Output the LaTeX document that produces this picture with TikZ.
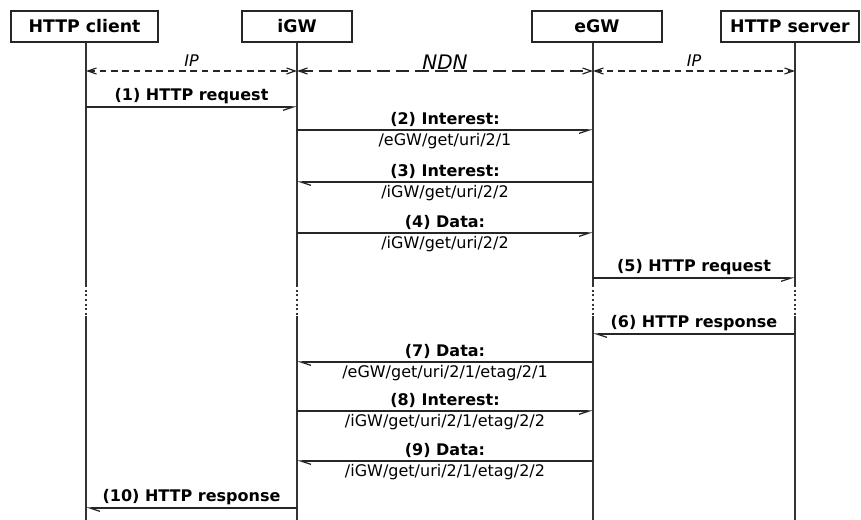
\documentclass[tikz,border=0pt]{standalone}
\usepackage{fontspec}
\setmainfont{DejaVu Sans}
\usetikzlibrary{arrows.meta}

\newcommand{\msgsize}{\fontsize{12}{14}\selectfont}

\tikzset{
  actor/.style={draw=black!85, line width=0.9pt, fill=white, inner sep=0pt,
    minimum height=23.25pt, font=\bfseries\fontsize{13}{15}\selectfont},
  life/.style={draw=black!80, line width=1pt},
  gapline/.style={draw=black!80, line width=1pt, dash pattern=on 1.5pt off 2pt},
  msgr/.style={draw=black!85, line width=0.95pt,
    -{Straight Barb[harpoon,swap,length=7.5pt,width=5pt]}},
  msgl/.style={draw=black!85, line width=0.95pt,
    -{Straight Barb[harpoon,length=7.5pt,width=5pt]}},
  lbl/.style={font=\msgsize\bfseries, inner sep=2pt},
  arg/.style={font=\msgsize, inner sep=2pt},
  tip/.tip={Straight Barb[length=6.5pt,width=4.5pt]},
  ipline/.style={draw=black!85, line width=0.9pt, dash pattern=on 5pt off 3.5pt, tip-tip},
  ndnline/.style={draw=black!85, line width=0.9pt, dash pattern=on 10pt off 4.5pt, tip-tip}
}

\begin{document}
\begin{tikzpicture}[x=0.75pt, y=-0.75pt]
    \useasboundingbox (0,0) rectangle (861,520);

    % participants
    \node[actor, minimum width=110.25pt] (client) at (84.5,26.5) {HTTP client};
    \node[actor, minimum width=82.5pt] (igw) at (297,26.5) {iGW};
    \node[actor, minimum width=97.5pt] (egw) at (597,26.5) {eGW};
    \node[actor, minimum width=103.5pt] (server) at (790,26.5) {HTTP server};

    % lifelines
    \coordinate (lc) at (86,520);
    \coordinate (li) at (297,520);
    \coordinate (le) at (593,520);
    \coordinate (ls) at (795,520);
    \foreach \n/\b in {lc/client, li/igw, le/egw, ls/server}
    {
       \draw[life] (\n |- \b.south) -- (\n |- 0,285);
       \draw[gapline] (\n |- 0,285) -- (\n |- 0,316);
       \draw[life] (\n |- 0,316) -- (\n);
    }

    % transport segments
    \draw[ipline] (lc |- 0,71) -- node[above, font=\msgsize\itshape, inner sep=3pt]{IP} (li |- 0,71);
    \draw[ndnline] (li |- 0,71) -- node[above, font=\itshape\fontsize{15}{17}\selectfont, inner sep=1pt]{NDN} (le |- 0,71);
    \draw[ipline] (le |- 0,71) -- node[above, font=\msgsize\itshape, inner sep=3pt]{IP} (ls |- 0,71);

    % messages
    \draw[msgr] (lc |- 0,107) -- node[lbl, above]{(1) HTTP request} (li |- 0,107);
    \draw[msgr] (li |- 0,130) -- node[lbl, above]{(2) Interest:} node[arg, below]{/eGW/get/uri/2/1} (le |- 0,130);
    \draw[msgl] (le |- 0,182) -- node[lbl, above]{(3) Interest:} node[arg, below]{/iGW/get/uri/2/2} (li |- 0,182);
    \draw[msgr] (li |- 0,233) -- node[lbl, above]{(4) Data:} node[arg, below]{/iGW/get/uri/2/2} (le |- 0,233);
    \draw[msgr] (le |- 0,278) -- node[lbl, above]{(5) HTTP request} (ls |- 0,278);
    \draw[msgl] (ls |- 0,334) -- node[lbl, above]{(6) HTTP response} (le |- 0,334);
    \draw[msgl] (le |- 0,362) -- node[lbl, above]{(7) Data:} node[arg, below]{/eGW/get/uri/2/1/etag/2/1} (li |- 0,362);
    \draw[msgr] (li |- 0,411) -- node[lbl, above]{(8) Interest:} node[arg, below]{/iGW/get/uri/2/1/etag/2/2} (le |- 0,411);
    \draw[msgl] (le |- 0,461) -- node[lbl, above]{(9) Data:} node[arg, below]{/iGW/get/uri/2/1/etag/2/2} (li |- 0,461);
    \draw[msgl] (li |- 0,508) -- node[lbl, above]{(10) HTTP response} (lc |- 0,508);
\end{tikzpicture}
\end{document}
